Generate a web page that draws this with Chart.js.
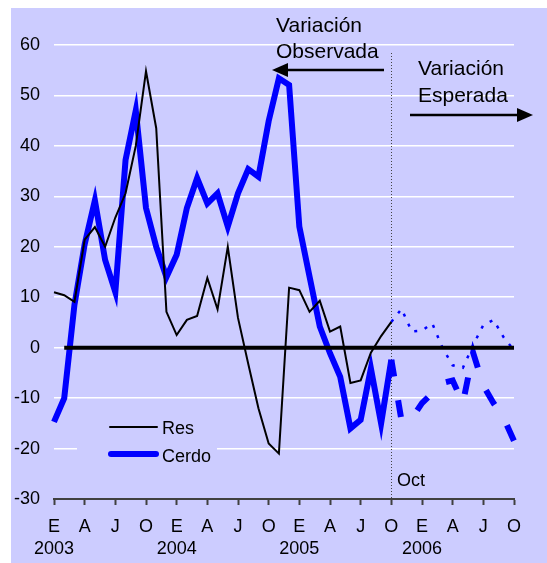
<!DOCTYPE html>
<html>
<head>
<meta charset="utf-8">
<script src="https://cdn.jsdelivr.net/npm/chart.js@4.4.1/dist/chart.umd.min.js"></script>
<style>
  html, body { margin: 0; padding: 0; background: #fff; }
  #wrap { width: 547px; height: 563px; }
</style>
</head>
<body>
<div id="wrap"><canvas id="chart" width="547" height="563"></canvas></div>
<script>
// monthly series, Jan 2003 .. Oct 2005 (observed)
const res = [11, 10.4, 9.1, 21.4, 23.9, 20, 25.8, 30.6, 40, 54.8, 43.5, 7.1,
             2.5, 5.5, 6.3, 13.8, 7.6, 20, 5.9, -3.2, -12, -19, -21, 11.9,
             11.4, 7.1, 9.3, 3.2, 4.2, -7, -6.5, -1, 2.3, 5.1];
const cerdo = [-14.7, -10, 8.5, 20.5, 29.2, 17.4, 11, 37.2, 47, 27.7, 20, 14,
               18.4, 27.7, 33.6, 28.6, 30.6, 24, 30.6, 35.4, 33.9, 44.9, 53.4, 52.1,
               24, 14.1, 4.2, -1.1, -5.8, -16, -14.3, -4.1, -15, -2.4];
// expected, Oct 2005 .. Oct 2006
const resForecast = [5.1, 7.7, 3.2, 3.4, 4.8, 0, -3.5, -4, 0.5, 4.5, 5.5, 2, -0.5];
const cerdoForecast = [-2.4, -14.5, -14, -11, -9, -7, -6.5, -11, -1, -7.5, -11, -14, -18.5];

const quarterLetters = ['E', 'A', 'J', 'O'];
const years = ['2003', '2004', '2005', '2006'];
const yTicks = { min: -30, max: 60, step: 10 };

const LAVENDER = '#CCCCFF';
const BLUE = '#0000FF';

const nObs = res.length;
const n = nObs + resForecast.length - 1;
const labels = [];
for (let i = 0; i < n; i++) labels.push(i);

const place = (arr, start) => labels.map((_, i) => (i >= start && i - start < arr.length) ? arr[i - start] : null);
const zeroLine = labels.map((_, i) => i >= 1 ? 0 : null);

const decor = {
  id: 'decor',
  beforeDraw(chart) {
    const c = chart.ctx;
    c.save();
    c.fillStyle = '#fff';
    c.fillRect(0, 0, chart.width, chart.height);
    c.fillStyle = LAVENDER;
    c.fillRect(11, 8, chart.width - 11, chart.height - 8);
    c.restore();
  },
  beforeDatasetsDraw(chart) {
    const c = chart.ctx;
    const area = chart.chartArea;
    c.save();
    // legend box sits over the grid
    c.fillStyle = LAVENDER;
    c.fillRect(77, 406, 140, 62);
    // Oct 2005 marker
    const xo = Math.round(chart.scales.x.getPixelForValue(nObs - 1)) + 0.5;
    c.strokeStyle = '#444';
    c.lineWidth = 1;
    c.setLineDash([1, 2]);
    c.beginPath();
    c.moveTo(xo, 53);
    c.lineTo(xo, area.bottom);
    c.stroke();
    c.restore();
  },
  afterDatasetsDraw(chart) {
    const c = chart.ctx;
    c.save();
    // legend
    c.lineCap = 'round';
    c.strokeStyle = '#000';
    c.lineWidth = 2;
    c.beginPath(); c.moveTo(110, 427); c.lineTo(157, 427); c.stroke();
    c.strokeStyle = BLUE;
    c.lineWidth = 6;
    c.beginPath(); c.moveTo(111, 454); c.lineTo(156, 454); c.stroke();
    c.fillStyle = '#000';
    c.textBaseline = 'alphabetic';
    c.font = '18px "Liberation Sans", Arial, sans-serif';
    c.fillText('Res', 162, 434);
    c.fillText('Cerdo', 162, 462);
    c.fillText('Oct', 397, 486);

    // arrows + notes
    c.font = '21px "Liberation Sans", Arial, sans-serif';
    c.fillText('Variación', 276, 32);
    c.fillText('Observada', 276, 58);
    c.fillText('Variación', 418, 75);
    c.fillText('Esperada', 418, 102);

    c.lineCap = 'butt';
    c.strokeStyle = '#000';
    c.lineWidth = 2.5;
    c.beginPath(); c.moveTo(384, 70); c.lineTo(284, 70); c.stroke();
    c.beginPath(); c.moveTo(272, 70); c.lineTo(288, 63); c.lineTo(288, 77); c.closePath(); c.fill();
    c.beginPath(); c.moveTo(410, 115); c.lineTo(520, 115); c.stroke();
    c.beginPath(); c.moveTo(533, 115); c.lineTo(517, 108); c.lineTo(517, 122); c.closePath(); c.fill();
    c.restore();
  }
};

new Chart(document.getElementById('chart').getContext('2d'), {
  type: 'line',
  data: {
    labels: labels,
    datasets: [
      { data: zeroLine, borderColor: '#000', borderWidth: 4 },
      { label: 'Res', data: place(res, 0), borderColor: '#000', borderWidth: 2 },
      { data: place(resForecast, nObs - 1), borderColor: BLUE, borderWidth: 2.5, borderDash: [3, 8] },
      { label: 'Cerdo', data: place(cerdo, 0), borderColor: BLUE, borderWidth: 6 },
      { data: place(cerdoForecast, nObs - 1), borderColor: BLUE, borderWidth: 6, borderDash: [17, 24] }
    ]
  },
  options: {
    responsive: false,
    animation: false,
    devicePixelRatio: 1,
    layout: { padding: { left: 0, right: 33, top: 45, bottom: 0 } },
    elements: {
      point: { radius: 0 },
      line: { tension: 0, borderCapStyle: 'butt', borderJoinStyle: 'miter' }
    },
    plugins: { legend: { display: false }, tooltip: { enabled: false } },
    scales: {
      x: {
        type: 'category',
        offset: false,
        afterFit: s => { s.height = 64; },
        border: { color: '#404040', width: 2 },
        grid: {
          drawOnChartArea: false,
          drawTicks: true,
          tickLength: 6,
          tickWidth: 2,
          tickColor: ctx => ctx.index % 3 === 0 ? '#404040' : 'rgba(0,0,0,0)'
        },
        ticks: {
          autoSkip: false,
          maxRotation: 0,
          padding: 11,
          color: '#000',
          font: { family: '"Liberation Sans", Arial, sans-serif', size: 18, lineHeight: 1.22 },
          callback: (v, i) => {
            if (i % 3 !== 0) return '';
            const yr = i % 12 === 0 ? years[i / 12] : '';
            return [quarterLetters[(i / 3) % 4], yr];
          }
        }
      },
      y: {
        min: yTicks.min,
        max: yTicks.max,
        afterFit: s => { s.width = 54; },
        border: { display: false },
        grid: {
          color: ctx => ctx.tick && ctx.tick.value === yTicks.min ? 'rgba(0,0,0,0)' : '#FFFFFF',
          lineWidth: 1.5,
          drawTicks: false
        },
        ticks: {
          stepSize: yTicks.step,
          padding: 14,
          color: '#000',
          font: { family: '"Liberation Sans", Arial, sans-serif', size: 18 }
        }
      }
    }
  },
  plugins: [decor]
});
</script>
</body>
</html>
